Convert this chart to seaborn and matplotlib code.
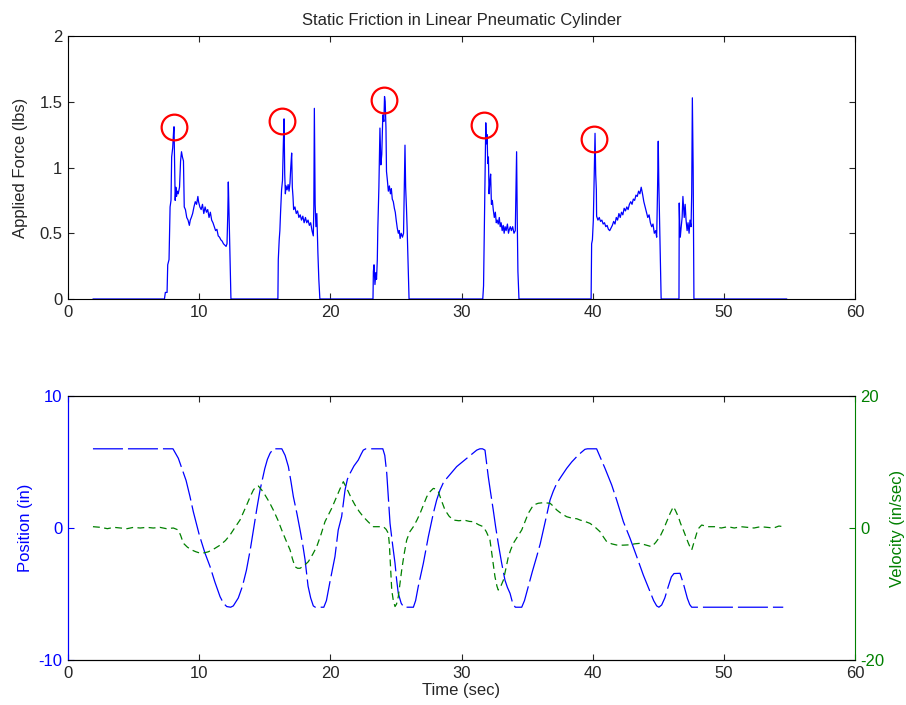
import matplotlib
matplotlib.use("Agg")
import matplotlib.pyplot as plt
import seaborn as sns

# ---------------- data ----------------
# Applied force record (time in sec, force in lbs)
force_t = [
    1.9, 7.35, 7.42, 7.55, 7.6, 7.7, 7.78, 7.85, 7.9, 7.98, 8.05, 8.08, 8.12, 8.17, 8.22,
    8.27, 8.33, 8.40, 8.5, 8.58, 8.65, 8.72, 8.8, 8.86, 8.95, 9.05, 9.15, 9.25, 9.32, 9.4,
    9.5, 9.6, 9.7, 9.8, 9.9, 9.95, 10.05, 10.15, 10.25, 10.35, 10.45, 10.55, 10.65, 10.75,
    10.85, 10.95, 11.05, 11.15, 11.25, 11.35, 11.45, 11.55, 11.65, 11.75, 11.85, 11.95,
    12.05, 12.12, 12.18, 12.22, 12.26, 12.32, 12.42,
    16.0, 16.03, 16.06, 16.1, 16.15, 16.2, 16.28, 16.35, 16.42, 16.47, 16.52, 16.57, 16.62,
    16.7, 16.78, 16.85, 16.92, 16.98, 17.05, 17.1, 17.15, 17.2, 17.3, 17.4, 17.5, 17.6,
    17.7, 17.8, 17.9, 18.0, 18.1, 18.2, 18.3, 18.4, 18.5, 18.6, 18.7, 18.74, 18.78, 18.84,
    18.9, 18.97, 19.05, 19.12, 19.2,
    23.25, 23.28, 23.33, 23.4, 23.47, 23.52, 23.58, 23.62, 23.7, 23.78, 23.85, 23.92, 24.0,
    24.08, 24.13, 24.18, 24.24, 24.28, 24.35, 24.42, 24.5, 24.58, 24.65, 24.72, 24.8,
    24.88, 24.95, 25.02, 25.1, 25.18, 25.25, 25.32, 25.4, 25.5, 25.58, 25.63, 25.69,
    25.74, 25.8, 25.85, 25.92, 26.0,
    31.62, 31.68, 31.74, 31.8, 31.85, 31.9, 31.95, 32.0, 32.05, 32.1, 32.15, 32.22, 32.28,
    32.35, 32.42, 32.5, 32.58, 32.65, 32.72, 32.8, 32.88, 32.95, 33.02, 33.1, 33.18,
    33.25, 33.32, 33.4, 33.5, 33.58, 33.65, 33.72, 33.8, 33.9, 34.0, 34.1, 34.15, 34.2,
    34.25, 34.3, 34.38,
    39.88, 39.92, 39.98, 40.05, 40.12, 40.18, 40.23, 40.28, 40.3, 40.4, 40.5, 40.6, 40.7,
    40.8, 40.9, 41.0, 41.1, 41.2, 41.3, 41.4, 41.5, 41.6, 41.7, 41.8, 41.9, 42.0, 42.1,
    42.2, 42.3, 42.4, 42.5, 42.6, 42.7, 42.8, 42.9, 43.0, 43.1, 43.2, 43.3, 43.4, 43.5,
    43.6, 43.7, 43.8, 43.9, 44.0, 44.1, 44.2, 44.3, 44.4, 44.5, 44.6, 44.7, 44.8, 44.88,
    44.94, 45.0, 45.04, 45.1, 45.16, 45.22,
    46.58, 46.6, 46.64, 46.68, 46.75, 46.82, 46.88, 46.93, 46.98, 47.05, 47.12, 47.2,
    47.27, 47.35, 47.42, 47.5, 47.55, 47.6, 47.66, 47.72,
    54.8,
]
force_lbs = [
    0.0, 0.0, 0.05, 0.05, 0.26, 0.30, 0.70, 0.75, 1.08, 1.15, 1.28, 1.31, 1.05, 0.75, 0.85,
    0.78, 0.82, 0.80, 0.85, 1.05, 1.12, 1.08, 1.05, 0.70, 0.68, 0.62, 0.60, 0.56, 0.60, 0.62,
    0.65, 0.70, 0.74, 0.72, 0.78, 0.74, 0.70, 0.68, 0.72, 0.65, 0.70, 0.66, 0.68, 0.62,
    0.66, 0.60, 0.58, 0.55, 0.52, 0.53, 0.48, 0.47, 0.45, 0.44, 0.42, 0.41,
    0.40, 0.42, 0.65, 0.89, 0.70, 0.45, 0.0,
    0.0, 0.30, 0.36, 0.45, 0.52, 0.65, 0.83, 0.90, 1.20, 1.37, 0.95, 0.80, 0.86,
    0.83, 0.87, 0.82, 0.88, 1.00, 1.11, 0.85, 0.78, 0.68, 0.70, 0.65, 0.67, 0.62,
    0.64, 0.60, 0.63, 0.58, 0.62, 0.58, 0.60, 0.56, 0.58, 0.52, 0.48, 0.70, 1.45, 0.72,
    0.55, 0.65, 0.35, 0.15, 0.0,
    0.0, 0.21, 0.26, 0.11, 0.20, 0.15, 0.30, 0.54, 0.85, 1.30, 1.02, 1.10, 1.40,
    1.35, 1.54, 1.50, 1.30, 0.97, 0.90, 0.82, 0.86, 0.80, 0.84, 0.76, 0.74,
    0.69, 0.66, 0.60, 0.54, 0.50, 0.52, 0.46, 0.50, 0.47, 0.50, 0.80, 1.17,
    0.85, 0.70, 0.55, 0.30, 0.0,
    0.0, 0.10, 0.55, 1.05, 1.34, 1.18, 1.25, 1.03, 1.08, 0.80, 0.88, 0.95, 0.72,
    0.75, 0.68, 0.62, 0.66, 0.58, 0.60, 0.57, 0.62, 0.55, 0.58, 0.52, 0.56,
    0.50, 0.55, 0.52, 0.57, 0.50, 0.53, 0.55, 0.52, 0.55, 0.50, 0.52, 0.80, 1.12,
    0.60, 0.21, 0.0,
    0.0, 0.42, 0.45, 0.60, 0.95, 1.26, 0.95, 0.83, 0.63, 0.60, 0.62, 0.59, 0.60,
    0.57, 0.58, 0.55, 0.56, 0.53, 0.52, 0.54, 0.56, 0.59, 0.57, 0.62, 0.60, 0.65, 0.62,
    0.66, 0.64, 0.69, 0.67, 0.70, 0.68, 0.72, 0.74, 0.72, 0.76, 0.75, 0.79, 0.78, 0.82,
    0.80, 0.85, 0.80, 0.74, 0.70, 0.66, 0.62, 0.64, 0.58, 0.55, 0.57, 0.50, 0.52, 0.47,
    0.80, 1.20, 0.90, 0.60, 0.30, 0.0,
    0.0, 0.73, 0.55, 0.47, 0.55, 0.62, 0.78, 0.70, 0.62, 0.72, 0.60, 0.52,
    0.58, 0.50, 0.60, 0.55, 0.80, 1.53, 1.00, 0.0,
    0.0,
]

# Breakaway (static friction) peaks
peak_t = [8.08, 16.31, 24.09, 31.71, 40.10]
peak_lbs = [1.31, 1.35, 1.51, 1.32, 1.22]

# Piston position (in)
pos_t = [
    1.9, 8.0, 8.41, 9.0, 9.3, 9.55, 10.0, 10.44, 10.83, 11.2, 11.59, 11.85, 12.1, 12.4,
    12.6, 12.98, 13.3, 13.6, 13.9, 14.13, 14.4, 14.64, 15.0, 15.2, 15.4, 15.65, 16.3,
    16.55, 16.8, 17.0, 17.18, 17.45, 17.69, 17.9, 18.07, 18.3, 18.5, 18.7, 18.85, 19.5,
    19.7, 19.97, 20.35, 20.6, 20.86, 21.12, 21.3, 21.5, 21.8, 22.13, 22.35, 22.51, 22.7,
    24.0, 24.15, 24.3, 24.42, 24.55, 24.75, 24.93, 25.05, 25.18, 25.4, 25.6, 26.33,
    26.5, 26.7, 27.09, 27.47, 27.85, 28.1, 28.36, 28.6, 28.87, 29.25, 29.63, 30.0, 30.4,
    30.8, 31.16, 31.4, 31.6, 31.79, 31.9, 32.04, 32.2, 32.42, 32.6, 32.8, 33.05, 33.31,
    33.5, 33.7, 33.9, 34.1, 34.59, 34.8, 35.09, 35.4, 35.73, 36.0, 36.24, 36.5, 36.75,
    37.0, 37.26, 37.6, 38.02, 38.4, 38.78, 39.1, 39.41, 39.6, 40.3, 40.56, 40.94, 41.45,
    41.83, 42.34, 42.85, 43.36, 43.86, 44.37, 44.65, 44.88, 45.05, 45.26, 45.5, 45.76,
    46.0, 46.2, 46.66, 46.91, 47.22, 47.4, 47.55, 54.53,
]
pos_in = [
    6.0, 6.0, 5.28, 3.6, 2.37, 1.24, -0.5, -1.9, -2.93, -4.1, -5.2, -5.7, -5.95, -6.0,
    -5.9, -5.3, -4.4, -3.2, -1.6, -0.15, 1.5, 2.88, 4.5, 5.2, 5.66, 6.0, 6.0,
    5.5, 4.65, 3.5, 2.37, 1.1, -0.15, -1.3, -2.4, -4.4, -5.3, -5.9, -6.0, -6.0,
    -5.5, -4.07, -2.17, -0.15, 0.86, 2.88, 3.7, 4.14, 4.7, 5.15, 5.6, 5.9, 6.0,
    6.0, 5.5, 4.14, 2.3, 0.35, -1.3, -2.67, -3.9, -4.95, -5.7, -6.0, -6.0,
    -5.5, -4.44, -2.67, -0.66, 1.11, 2.1, 2.88, 3.4, 3.76, 4.2, 4.65, 4.95, 5.28,
    5.6, 5.9, 6.0, 6.0, 5.9, 5.0, 3.89, 2.8, 1.36, 0.1, -1.16, -2.6, -3.94,
    -4.5, -4.95, -5.7, -6.0, -6.0, -5.5, -4.44, -3.3, -2.17, -1.2, -0.15, 1.0, 2.12,
    2.8, 3.38, 3.9, 4.52, 5.0, 5.4, 5.7, 5.96, 6.0, 6.0, 5.4, 4.52, 3.26,
    2.12, 0.48, -0.78, -2.17, -3.56, -4.82, -5.5, -5.9, -6.0, -5.83, -5.3, -4.44,
    -3.7, -3.45, -3.43, -4.19, -5.33, -5.8, -6.0, -6.0,
]

# Piston velocity (in/sec)
vel_t = [
    1.9, 2.5, 3.0, 3.5, 4.0, 4.5, 5.0, 5.5, 6.0, 6.5, 7.0, 7.5, 8.03, 8.41, 8.6, 8.79,
    9.1, 9.43, 9.75, 10.06, 10.4, 10.7, 11.1, 11.59, 12.0, 12.35, 12.7, 13.11, 13.4,
    13.62, 13.9, 14.13, 14.35, 14.51, 14.75, 15.02, 15.35, 15.65, 16.0, 16.29, 16.6,
    16.93, 17.1, 17.3, 17.5, 17.69, 18.0, 18.32, 18.65, 18.96, 19.3, 19.59, 19.85, 20.1,
    20.48, 20.75, 20.99, 21.15, 21.37, 21.6, 21.88, 22.2, 22.51, 22.9, 23.28, 23.7,
    24.04, 24.25, 24.42, 24.5, 24.55, 24.62, 24.68, 24.8, 24.93, 25.05, 25.18, 25.3,
    25.44, 25.62, 25.82, 26.05, 26.33, 26.6, 26.84, 27.1, 27.35, 27.6, 27.85, 28.05,
    28.23, 28.5, 28.74, 29.05, 29.37, 29.8, 30.2, 30.6, 30.9, 31.3, 31.66, 31.9, 32.17,
    32.35, 32.55, 32.7, 32.8, 33.0, 33.19, 33.4, 33.57, 33.75, 33.95, 34.3, 34.59,
    34.85, 35.09, 35.3, 35.48, 35.85, 36.24, 36.75, 37.0, 37.26, 37.6, 38.02, 38.4,
    38.8, 39.03, 39.4, 39.8, 40.2, 40.56, 40.8, 41.07, 41.45, 41.83, 42.3, 42.8, 43.2,
    43.6, 44.1, 44.5, 44.8, 45.13, 45.4, 45.64, 45.9, 46.15, 46.3, 46.53, 46.7, 46.91,
    47.1, 47.3, 47.45, 47.55, 47.75, 47.93, 48.1, 48.31, 48.8, 49.3, 49.8, 50.3, 50.8,
    51.3, 51.8, 52.3, 52.8, 53.3, 53.8, 54.2, 54.53,
]
vel_ips = [
    0.2, 0.1, -0.1, 0.1, 0.0, -0.1, 0.1, 0.0, 0.1, 0.0, 0.1, -0.1, 0.0, -0.3, -1.2, -2.3,
    -2.9, -3.33, -3.6, -3.8, -3.75, -3.6, -3.2, -2.6, -1.9, -1.06, 0.0, 1.21, 2.5,
    3.48, 4.8, 5.76, 6.3, 6.36, 5.8, 5.0, 3.9, 2.73, 1.2, -0.3, -1.8,
    -3.33, -4.6, -5.86, -6.1, -6.1, -5.7, -5.1, -4.0, -2.83, -0.9, 0.96, 2.0, 2.98,
    4.74, 6.0, 7.02, 6.4, 5.5, 4.5, 3.48, 2.5, 1.71, 0.9, 0.2, 0.2,
    0.2, -0.2, -0.8, -2.5, -4.35, -7.0, -9.4, -11.0, -11.9, -11.5, -10.4, -8.5,
    -6.36, -4.0, -1.82, -0.6, 0.2, 1.2, 2.22, 3.5, 4.74, 5.5, 6.0, 5.9,
    5.5, 4.0, 2.73, 1.8, 1.21, 1.1, 1.2, 1.0, 0.96, 0.5, 0.2, -0.6, -1.82,
    -4.5, -7.37, -8.8, -9.4, -8.8, -7.9, -6.0, -4.35, -3.3, -2.32, -1.2, -0.3,
    1.0, 2.22, 2.9, 3.48, 3.75, 3.84, 3.75, 3.3, 2.73, 2.2, 1.71, 1.5,
    1.4, 1.21, 1.0, 0.7, 0.1, -0.56, -1.3, -2.07, -2.4, -2.58, -2.6, -2.55, -2.4,
    -2.32, -2.6, -2.83, -2.2, -1.31, -0.2, 0.96, 2.2, 3.23, 2.7, 1.71, 0.7, -0.3,
    -1.3, -2.32, -3.0, -3.33, -2.0, -0.8, 0.0, 0.45, 0.2, 0.2, 0.0, 0.2, 0.0,
    0.2, 0.1, 0.0, 0.2, 0.1, 0.0, 0.3, 0.2,
]

x_ticks = [0, 10, 20, 30, 40, 50, 60]
force_ticks = [0, 0.5, 1, 1.5, 2]
force_tick_labels = ["0", "0.5", "1", "1.5", "2"]
pos_ticks = [-10, 0, 10]
vel_ticks = [-20, 0, 20]

# ---------------- style ----------------
sns.set_theme(style="white")
plt.rcParams.update({
    "font.family": ["Liberation Sans", "DejaVu Sans"],
    "font.size": 12,
    "axes.unicode_minus": False,
    "axes.edgecolor": "black",
    "axes.linewidth": 0.8,
    "xtick.direction": "in",
    "ytick.direction": "in",
    "xtick.major.size": 4.5,
    "ytick.major.size": 4.5,
    "xtick.major.width": 0.8,
    "ytick.major.width": 0.8,
    "xtick.labelsize": 12,
    "ytick.labelsize": 12,
})

BLUE = "#0000ff"
GREEN = "#008000"

fig = plt.figure(figsize=(9.06, 7.05), dpi=100)
ax_f = fig.add_axes([0.0751, 0.5759, 0.8686, 0.3730])
ax_p = fig.add_axes([0.0751, 0.0638, 0.8686, 0.3745])
ax_v = ax_p.twinx()

# ---- applied force ----
sns.lineplot(x=force_t, y=force_lbs, ax=ax_f, estimator=None, sort=False,
             color=BLUE, linewidth=0.9)
ax_f.plot(peak_t, peak_lbs, linestyle="none", marker="o", markersize=18.5,
          markerfacecolor="none", markeredgecolor="#ff0000", markeredgewidth=1.6)
ax_f.set_xlim(0, 60)
ax_f.set_ylim(0, 2)
ax_f.set_xticks(x_ticks)
ax_f.set_yticks(force_ticks)
ax_f.set_yticklabels(force_tick_labels)
ax_f.tick_params(top=True, right=True, bottom=True, left=True, pad=4)
ax_f.set_title("Static Friction in Linear Pneumatic Cylinder", fontsize=12, pad=8)
ax_f.set_ylabel("Applied Force (lbs)", fontsize=12, labelpad=8)
ax_f.set_xlabel("")

# ---- position and velocity ----
sns.lineplot(x=pos_t, y=pos_in, ax=ax_p, estimator=None, sort=False,
             color=BLUE, linewidth=0.9, linestyle=(0, (24, 4)))
sns.lineplot(x=vel_t, y=vel_ips, ax=ax_v, estimator=None, sort=False,
             color=GREEN, linewidth=0.9, linestyle=(0, (5.5, 3.5)))

ax_p.set_xlim(0, 60)
ax_p.set_ylim(-10, 10)
ax_p.set_xticks(x_ticks)
ax_p.set_yticks(pos_ticks)
ax_v.set_ylim(-20, 20)
ax_v.set_yticks(vel_ticks)

ax_p.tick_params(axis="x", top=True, bottom=True, pad=4)
ax_p.tick_params(axis="y", left=True, right=False, colors=BLUE, pad=4)
ax_v.tick_params(axis="y", right=True, left=False, colors=GREEN, pad=4)

ax_p.spines["left"].set_color(BLUE)
ax_v.spines["left"].set_color(BLUE)
ax_v.spines["right"].set_color(GREEN)
ax_p.spines["right"].set_visible(False)

ax_p.set_xlabel("Time (sec)", fontsize=12, labelpad=2)
ax_p.set_ylabel("Position (in)", fontsize=12, color=BLUE, labelpad=4)
ax_v.set_ylabel("Velocity (in/sec)", fontsize=12, color=GREEN, labelpad=4)

fig.savefig("out.png", dpi=100)
